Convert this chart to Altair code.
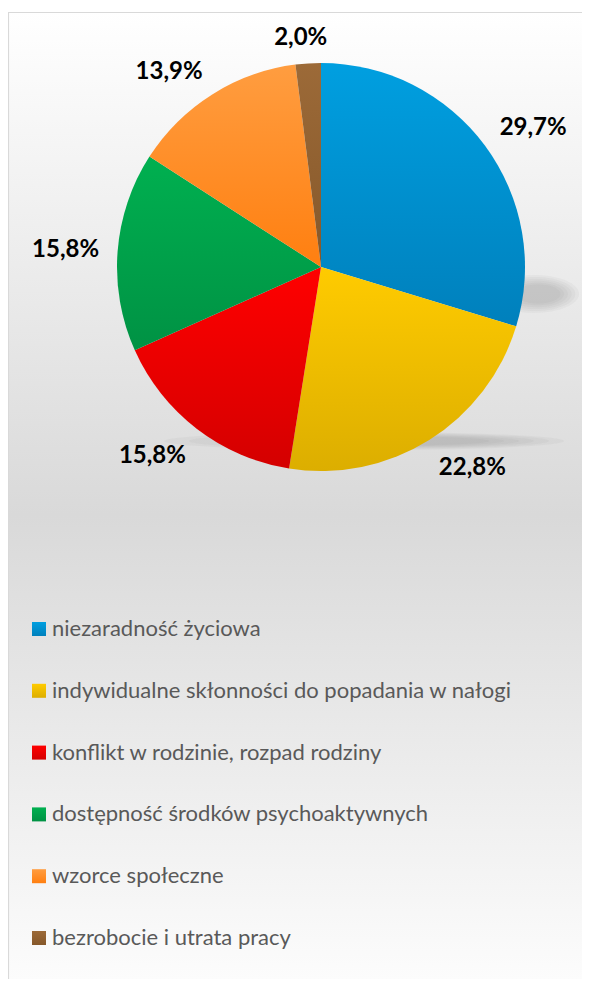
import altair as alt
import pandas as pd

categories = [
    "niezaradność życiowa",
    "indywidualne skłonności do popadania w nałogi",
    "konflikt w rodzinie, rozpad rodziny",
    "dostępność środków psychoaktywnych",
    "wzorce społeczne",
    "bezrobocie i utrata pracy",
]
values = [29.7, 22.8, 15.8, 15.8, 13.9, 2.0]
colors_top = ["#009fe0", "#ffcb00", "#ff0000", "#00b050", "#ff9d40", "#9c6a38"]
colors_bottom = ["#0080bc", "#dcae00", "#d40000", "#009244", "#ff7f10", "#86582a"]

W, H = 574, 971
CX, CY, R = 313, 259, 204

df = pd.DataFrame({"cat": categories, "value": values, "order": list(range(len(categories)))})

# label placement like Excel "outside end": anchor outside the rim, then push box outward
base = (
    alt.Chart(df)
    .transform_window(cum="sum(value)", sort=[alt.SortField("order")])
    .transform_calculate(
        start="datum.cum - datum.value",
        mid="datum.cum - datum.value / 2",
        label="replace(format(datum.value, '.1f'), '.', ',') + '%'",
    )
    .transform_calculate(ang="datum.mid / 100 * 2 * PI")
    .transform_calculate(
        hw="8 * length(datum.label) - 7",
        dx0="223 * sin(datum.ang)",
        dy0="-222 * cos(datum.ang)",
    )
    .transform_calculate(
        ldx="datum.dx0 + datum.hw * clamp(4 * sin(datum.ang), -1, 1)",
        ldy="datum.dy0 - 10 * clamp(4 * cos(datum.ang), -1, 1)",
    )
    .transform_calculate(
        lr="sqrt(datum.ldx * datum.ldx + datum.ldy * datum.ldy)",
        lt="(atan2(datum.ldx, -datum.ldy) + 2 * PI) % (2 * PI) / (2 * PI) * 100",
    )
)

theta_scale = alt.Scale(domain=[0, 100], range=[0, 6.283185307179586])
y_scale = alt.Scale(domain=categories, range=[621, 930], padding=0)


def grad(top, bottom):
    return alt.Gradient(
        gradient="linear",
        stops=[alt.GradientStop(color=top, offset=0), alt.GradientStop(color=bottom, offset=1)],
        x1=0, x2=0, y1=0, y2=1,
    )


one = alt.Chart(pd.DataFrame({"a": [0]}))
bg = one.mark_rect(
    color=alt.Gradient(
        gradient="linear",
        stops=[
            alt.GradientStop(color="#ffffff", offset=0),
            alt.GradientStop(color="#d9d9d9", offset=0.5),
            alt.GradientStop(color="#ffffff", offset=1),
        ],
        x1=0, x2=0, y1=0, y2=1,
    )
).encode(x=alt.value(0), x2=alt.value(W), y=alt.value(4), y2=alt.value(H + 40))

border_left = one.mark_rule(color="#d9d9d9", strokeWidth=1.2).encode(
    x=alt.value(0.5), y=alt.value(4), y2=alt.value(H)
)
border_top = one.mark_rule(color="#d9d9d9", strokeWidth=1.2).encode(
    x=alt.value(0), x2=alt.value(W), y=alt.value(4.5)
)

layers = [bg, border_left, border_top]

# soft perspective shadow streaks (decoration)
def ellipse(ry):
    return f"M-1,0 A1,{ry} 0 1,1 1,0 A1,{ry} 0 1,1 -1,0 Z"

for s in [1.0, 0.9, 0.8, 0.7, 0.6, 0.5]:
    layers.append(
        one.mark_point(shape=ellipse(0.045), filled=True, color="#707070", opacity=0.06, strokeWidth=0,
                       size=(400 * s) ** 2).encode(x=alt.value(356 + 50 * (1 - s)), y=alt.value(433))
    )
    layers.append(
        one.mark_point(shape=ellipse(0.42), filled=True, color="#707070", opacity=0.06, strokeWidth=0,
                       size=(90 * s) ** 2).encode(x=alt.value(526 + 8 * (1 - s)), y=alt.value(286))
    )

for i, cat in enumerate(categories):
    g = grad(colors_top[i], colors_bottom[i])
    sub = base.transform_filter(alt.datum.order == i)
    layers.append(
        sub.mark_arc(outerRadius=R, color=g).encode(
            theta=alt.Theta("start:Q", scale=theta_scale),
            theta2="cum:Q",
            x=alt.value(CX),
            y=alt.value(CY),
        )
    )
    layers.append(
        sub.mark_square(size=196, color=g, opacity=1).encode(
            x=alt.value(31),
            y=alt.Y("cat:N", scale=y_scale, axis=None),
        )
    )

labels = base.mark_text(
    font="Lato", fontSize=24, fontWeight="bold", color="#000000", align="center", baseline="middle", dy=3
).encode(
    theta=alt.Theta("lt:Q", scale=theta_scale),
    radius=alt.Radius("lr:Q", scale=None),
    x=alt.value(CX),
    y=alt.value(CY),
    text="label:N",
)

legend_text = base.mark_text(
    font="Lato", fontSize=22, color="#595959", align="left", baseline="middle"
).encode(
    x=alt.value(44),
    y=alt.Y("cat:N", scale=y_scale, axis=None),
    text="cat:N",
)

layers += [labels, legend_text]

chart = (
    alt.layer(*layers)
    .properties(width=W, height=H, padding=0, autosize=alt.AutoSizeParams(type="none"))
    .configure_view(stroke=None)
)

chart.save("out.html", embed_options={"renderer": "svg", "actions": False})
